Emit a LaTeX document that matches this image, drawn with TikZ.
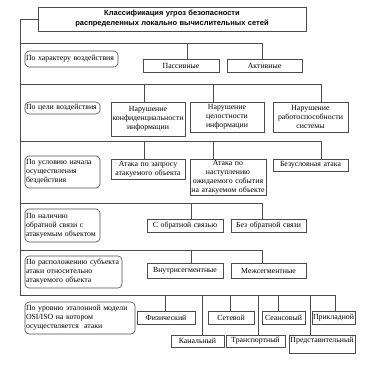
\documentclass[tikz,border=0pt]{standalone}
\usepackage{fontspec}
\setmainfont{Liberation Serif}
\newfontfamily\titlefont{Liberation Sans}
\newcommand\bx[7][box]{%
  \node[#1, minimum width={#5pt-#3pt}, minimum height={#6pt-#4pt}, text width={#5pt-#3pt-2pt}]
    (#2) at ({(#3+#5)/2},{(#4+#6)/2}) {#7};}
\begin{document}
\begin{tikzpicture}[x=1pt,y=-1pt,
  box/.style={draw=black!70, line width=0.6pt, inner sep=0pt, align=center,
    font=\fontsize{7.8}{9}\selectfont},
  lbl/.style={box, rounded corners=4pt, align=left, inner xsep=1pt},
  ttl/.style={box, font=\titlefont\bfseries\fontsize{7.5}{10}\selectfont},
  conn/.style={draw=black!70, line width=0.6pt}]
\useasboundingbox (0,0) rectangle (380,380);
% title
\bx[ttl]{title}{38}{7}{306}{31}{Классификация угроз безопасности\\распределенных локально вычислительных сетей}
% section 1
\bx[lbl]{L1}{25}{51}{118}{67}{По характеру воздействия}
\bx{pas}{143}{59}{219}{72}{Пассивные}
\bx{act}{227}{59}{302}{72}{Активные}
% section 2
\bx[lbl]{L2}{25}{102}{100}{114}{По цели воздействия}
\bx{n1}{111}{102}{185}{136}{Нарушение\\конфиденциальности\\информации}
\bx{n2}{190}{102}{264}{132}{Нарушение\\целостности\\информации}
\bx{n3}{273}{102}{348}{132}{Нарушение\\работоспособности\\системы}
% section 3
\bx[lbl]{L3}{25}{156}{100}{188}{По условию начала\\осуществления\\бездействия}
\bx{a1}{111}{159}{185}{179}{Атака по запросу\\атакуемого объекта}
\bx{a2}{190}{159}{266}{195}{Атака по\\наступлению\\ожидаемого события\\на атакуемом объекте}
\bx{a3}{273}{159}{348}{171}{Безусловная атака}
% section 4
\bx[lbl]{L4}{25}{209}{100}{242}{По наличию\\обратной связи с\\атакуемым объектом}
\bx{f1}{147}{219}{223}{232}{С обратной связью}
\bx{f2}{231}{219}{306}{232}{Без обратной связи}
% section 5
\bx[lbl]{L5}{25}{256}{122}{288}{По расположению субъекта\\атаки относительно\\атакуемого объекта}
\bx{s1}{147}{263}{223}{278}{Внутрисегментные}
\bx{s2}{231}{263}{306}{278}{Межсегментные}
% section 6
\bx[lbl]{L6}{25}{302}{135}{334}{По уровню эталонной модели\\OSI/ISO на котором\\осуществляется\ \ атаки}
\bx{o1}{137}{311}{195}{324}{Физический}
\bx{o2}{171}{335}{224}{347}{Канальный}
\bx{o3}{208}{311}{254}{324}{Сетевой}
\bx{o4}{226}{335}{285}{347}{Транспортный}
\bx{o5}{262}{311}{305}{324}{Сеансовый}
\bx{o6}{289}{335}{355}{353}{Представительный\\\mbox{}}
\bx{o7}{312}{311}{355}{324}{Прикладной}
% bus coordinates
\coordinate (m0) at (20,19);
\coordinate (m6) at (20,295);
\coordinate (b1) at (20,43);
\coordinate (b2) at (20,84);
\coordinate (b3) at (20,141);
\coordinate (b4) at (20,203);
\coordinate (b5) at (20,250);
\coordinate (p1) at (187,43);  \coordinate (p2) at (262,43);
\coordinate (q1) at (144,84);  \coordinate (q2) at (213,84);  \coordinate (q3) at (321,84);
\coordinate (r1) at (144,141); \coordinate (r2) at (213,141); \coordinate (r3) at (321,141);
\coordinate (t1) at (191,203); \coordinate (t2) at (262,203);
\coordinate (u1) at (191,250); \coordinate (u2) at (262,250);
\coordinate (v1) at (165,295); \coordinate (v2) at (202,295); \coordinate (v3) at (230,295);
\coordinate (v4) at (258,295); \coordinate (v5) at (278,295); \coordinate (v6) at (310,295);
\coordinate (v7) at (335,295);
% main spine
\draw[conn] (title.west |- m0) -- (m0) -- (m6);
% buses
\draw[conn] (b1) -- (p2); \draw[conn] (b2) -- (q3); \draw[conn] (b3) -- (r3);
\draw[conn] (b4) -- (t2); \draw[conn] (b5) -- (u2); \draw[conn] (m6) -- (v7);
% drops
\draw[conn] (p1) -- (p1 |- pas.north); \draw[conn] (p2) -- (p2 |- act.north);
\draw[conn] (q1) -- (q1 |- n1.north); \draw[conn] (q2) -- (q2 |- n2.north); \draw[conn] (q3) -- (q3 |- n3.north);
\draw[conn] (r1) -- (r1 |- a1.north); \draw[conn] (r2) -- (r2 |- a2.north); \draw[conn] (r3) -- (r3 |- a3.north);
\draw[conn] (t1) -- (t1 |- f1.north); \draw[conn] (t2) -- (t2 |- f2.north);
\draw[conn] (u1) -- (u1 |- s1.north); \draw[conn] (u2) -- (u2 |- s2.north);
\draw[conn] (v1) -- (v1 |- o1.north); \draw[conn] (v2) -- (v2 |- o2.north);
\draw[conn] (v3) -- (v3 |- o3.north); \draw[conn] (v4) -- (v4 |- o4.north);
\draw[conn] (v5) -- (v5 |- o5.north); \draw[conn] (v6) -- (v6 |- o6.north);
\draw[conn] (v7) -- (v7 |- o7.north);
\end{tikzpicture}
\end{document}
